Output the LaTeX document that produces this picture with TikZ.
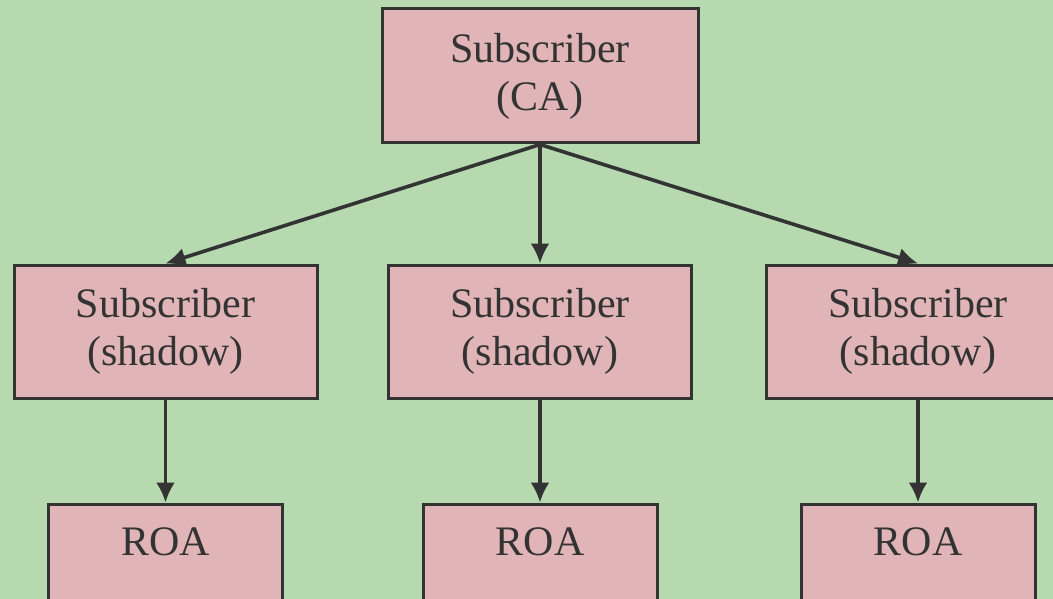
\documentclass[tikz,border=0pt]{standalone}
\usepackage{fontspec}
\setmainfont{Liberation Serif}
\usetikzlibrary{arrows.meta}
\definecolor{bgGreen}{HTML}{B6D9AF}
\definecolor{boxPink}{HTML}{E1B5B7}
\definecolor{inkGray}{HTML}{333333}
\begin{document}
\begin{tikzpicture}[x=1pt, y=-1pt,
		box/.style={rectangle, draw=inkGray, fill=boxPink, line width=3pt, inner sep=0pt, align=center, text=inkGray, font=\fontsize{42}{48}\selectfont, minimum height=133pt},
		link/.style={draw=inkGray, line width=3.6pt, -{Latex[length=20pt, width=19pt]}}]
			\clip (0,0) rectangle (1053,599);
			\fill[bgGreen] (0,0) rectangle (1053,599);

			\node[box, minimum width=316pt, minimum height=134pt] (ca) at (540,76) {Subscriber\\(CA)};

			\node[box, minimum width=303pt] (shadowL) at (165.5,331.5) {Subscriber\\(shadow)};
			\node[box, minimum width=303pt] (shadowM) at (540,331.5) {Subscriber\\(shadow)};
			\node[box, minimum width=303pt] (shadowR) at (918,331.5) {Subscriber\\(shadow)};

			\node[box, minimum width=234pt] (roaL) at (165.5,570.5) {ROA\\\phantom{(shadow)}};
			\node[box, minimum width=234pt] (roaM) at (540,570.5) {ROA\\\phantom{(shadow)}};
			\node[box, minimum width=234pt] (roaR) at (918,570.5) {ROA\\\phantom{(shadow)}};

			\draw[link] (ca.south) -- (shadowL.north);
			\draw[link] (ca.south) -- (shadowM.north);
			\draw[link] (ca.south) -- (shadowR.north);
			\draw[link] (shadowL.south) -- (roaL.north);
			\draw[link] (shadowM.south) -- (roaM.north);
			\draw[link] (shadowR.south) -- (roaR.north);
		\end{tikzpicture}
\end{document}
